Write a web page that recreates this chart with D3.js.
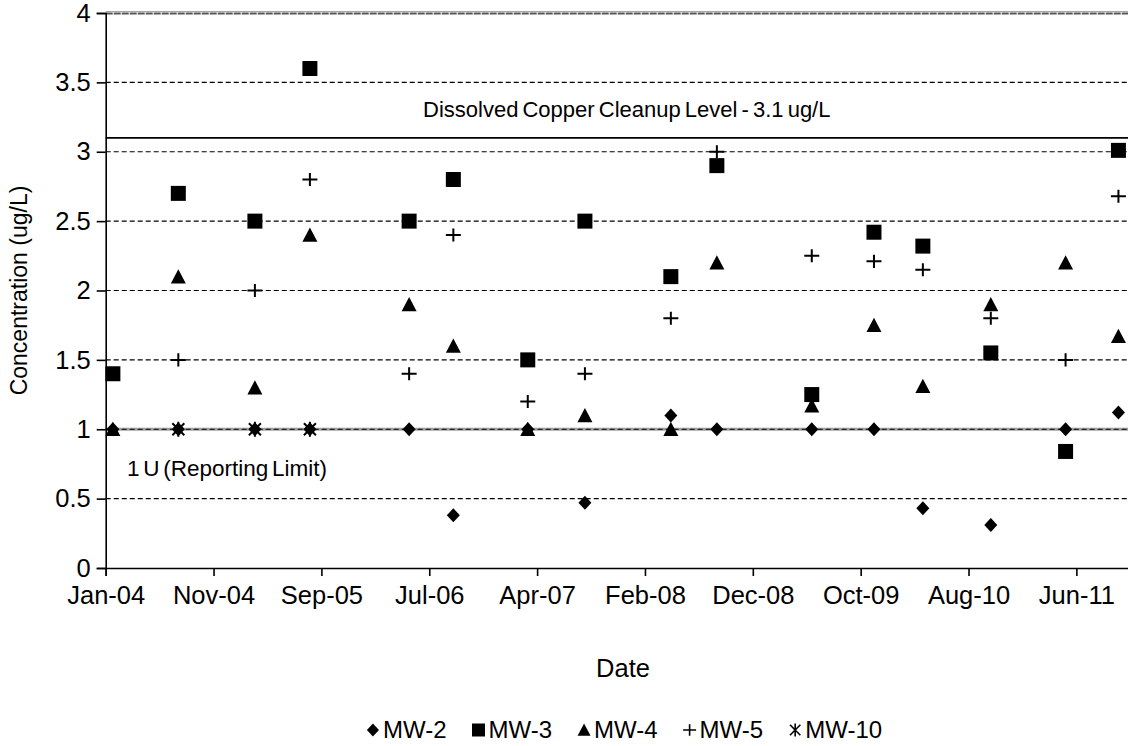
<!DOCTYPE html>
<html>
<head>
<meta charset="utf-8">
<script src="https://cdn.jsdelivr.net/npm/d3@7"></script>
<style>
  body { margin: 0; background: #fff; }
  svg { display: block; font-family: "Liberation Sans", Arial, sans-serif; }
</style>
</head>
<body>
<div class="visHolder"></div>
<script>
const width = 1128,
  height = 746;

const sampleDates = [
  "2004-02-03", "2004-08-03", "2005-03-04", "2005-08-04",
  "2006-05-07", "2006-09-07", "2007-04-02", "2007-09-08",
  "2008-05-04", "2008-09-09", "2009-05-31", "2009-11-20",
  "2010-04-05", "2010-10-11", "2011-05-07", "2011-10-01"
];

const seriesNames = ["MW-2", "MW-3", "MW-4", "MW-5", "MW-10"];
const seriesShapes = ["diamond", "square", "triangle", "plus", "star"];

const mw2 = [1, 1, 1, 1, 1, 0.38, 1, 0.47, 1.1, 1, 1, 1, 0.43, 0.31, 1, 1.12];
const mw3 = [1.4, 2.7, 2.5, 3.6, 2.5, 2.8, 1.5, 2.5, 2.1, 2.9, 1.25, 2.42, 2.32, 1.55, 0.84, 3.01];
const mw4 = [1, 2.1, 1.3, 2.4, 1.9, 1.6, 1, 1.1, 1, 2.2, 1.17, 1.75, 1.31, 1.9, 2.2, 1.67];
const mw5 = [null, 1.5, 2, 2.8, 1.4, 2.4, 1.2, 1.4, 1.8, 3, 2.25, 2.21, 2.15, 1.8, 1.5, 2.68];
const mw10 = [null, 1, 1, 1, null, null, null, null, null, null, null, null, null, null, null, null];
const seriesValues = [mw2, mw3, mw4, mw5, mw10];

const yTicks = [0, 0.5, 1, 1.5, 2, 2.5, 3, 3.5, 4];
const dashedLevels = [0.5, 1.5, 2, 2.5, 3, 3.5];
const cleanupLevel = 3.1;
const reportingLimit = 1;

// Excel style date axis: min serial 38000 (14 Jan 2004), major unit 300 days
const axisStart = new Date(2004, 0, 14);
const axisEnd = d3.timeDay.offset(axisStart, 2850);
const xTickValues = d3.range(10).map((i) => d3.timeDay.offset(axisStart, 300 * i));

const parseDate = d3.timeParse("%Y-%m-%d");
const tickFormat = d3.timeFormat("%b-%y");

const plotLeft = 105.7,
  plotRight = 1130.3,
  plotTop = 13,
  plotBottom = 568;

const xScale = d3.scaleTime().domain([axisStart, axisEnd]).range([plotLeft, plotRight]);
const yScale = d3.scaleLinear().domain([0, 4]).range([plotBottom, plotTop]);

const markerPath = (shape, s) => {
  const h = s / 2;
  if (shape === "diamond") {
    return `M0,${-h}L${h * 0.93},0L0,${h}L${-h * 0.93},0Z`;
  } else if (shape === "square") {
    return `M${-h},${-h}H${h}V${h}H${-h}Z`;
  } else if (shape === "triangle") {
    return `M0,${-h}L${h},${h * 0.9}L${-h},${h * 0.9}Z`;
  } else if (shape === "plus") {
    return `M${-h},0H${h}M0,${-h * 0.87}V${h * 0.87}`;
  } else {
    const a = h * 0.8;
    return `M${-a},${-a}L${a},${a}M${a},${-a}L${-a},${a}M0,${-h}V${h}`;
  }
};

const isLine = (shape) => shape === "plus" || shape === "star";

const svg = d3
  .select(".visHolder")
  .append("svg")
  .attr("width", width)
  .attr("height", height);

// top border of plot area
svg
  .append("line")
  .attr("x1", plotLeft)
  .attr("x2", width)
  .attr("y1", yScale(4) - 1.5)
  .attr("y2", yScale(4) - 1.5)
  .style("stroke", "#a6a6a6")
  .style("stroke-width", 1);

svg
  .append("line")
  .attr("x1", plotLeft)
  .attr("x2", width)
  .attr("y1", yScale(4) + 0.5)
  .attr("y2", yScale(4) + 0.5)
  .style("stroke", "#555")
  .style("stroke-width", 2)
  .style("stroke-dasharray", "7,1");

// reporting limit (grey solid)
svg
  .append("line")
  .attr("x1", plotLeft)
  .attr("x2", width)
  .attr("y1", yScale(reportingLimit))
  .attr("y2", yScale(reportingLimit))
  .style("stroke", "#a0a0a0")
  .style("stroke-width", 3);

// dashed gridlines
svg
  .selectAll(".grid")
  .data(dashedLevels.concat([reportingLimit]))
  .enter()
  .append("line")
  .attr("class", "grid")
  .attr("x1", plotLeft)
  .attr("x2", width)
  .attr("y1", (d) => yScale(d))
  .attr("y2", (d) => yScale(d))
  .style("stroke", "#000")
  .style("stroke-width", 1.2)
  .style("stroke-dasharray", "5,3");

// cleanup level
svg
  .append("line")
  .attr("x1", plotLeft)
  .attr("x2", width)
  .attr("y1", yScale(cleanupLevel))
  .attr("y2", yScale(cleanupLevel))
  .style("stroke", "#000")
  .style("stroke-width", 1.8);

svg
  .append("text")
  .attr("x", 423)
  .attr("y", 117)
  .text("Dissolved Copper Cleanup Level - 3.1 ug/L")
  .style("font-size", "22px")
  .style("word-spacing", "-2px");

svg
  .append("text")
  .attr("x", 127)
  .attr("y", 476)
  .text("1 U (Reporting Limit)")
  .style("font-size", "22.5px")
  .style("word-spacing", "-2.5px");

// axes
const yAxis = d3.axisLeft(yScale).tickValues(yTicks).tickFormat(d3.format("")).tickSizeOuter(0).tickSize(9).tickPadding(6);
const xAxis = d3.axisBottom(xScale).tickValues(xTickValues).tickFormat(tickFormat).tickSizeOuter(0).tickSize(8).tickPadding(10);

const yG = svg
  .append("g")
  .attr("id", "y-axis")
  .attr("transform", "translate(" + plotLeft + ",0)")
  .call(yAxis);

const xG = svg
  .append("g")
  .attr("id", "x-axis")
  .attr("transform", "translate(0," + plotBottom + ")")
  .call(xAxis);

[yG, xG].forEach((g) => {
  g.select(".domain").style("stroke", "#000").style("stroke-width", 1.6);
  g.selectAll(".tick line").style("stroke", "#000").style("stroke-width", 1.6);
  g.selectAll(".tick text")
    .style("font-size", "25.5px")
    .style("font-family", "Liberation Sans, Arial, sans-serif")
    .style("fill", "#000");
});

// markers
seriesNames.forEach((name, si) => {
  const shape = seriesShapes[si];
  const pts = sampleDates
    .map((d, i) => ({ date: parseDate(d), value: seriesValues[si][i] }))
    .filter((p) => p.value !== null);

  svg
    .append("g")
    .attr("class", "series")
    .selectAll("path")
    .data(pts)
    .enter()
    .append("path")
    .attr("transform", (p) => "translate(" + xScale(p.date) + "," + yScale(p.value) + ")")
    .attr("d", markerPath(shape, shape === "diamond" ? 14 : 15))
    .style("fill", isLine(shape) ? "none" : "#000")
    .style("stroke", "#000")
    .style("stroke-width", isLine(shape) ? 2 : 0);
});

// axis titles
svg
  .append("text")
  .attr("x", 623)
  .attr("y", 677)
  .attr("text-anchor", "middle")
  .text("Date")
  .style("font-size", "25.5px");

svg
  .append("text")
  .attr("transform", "translate(27," + (plotTop + plotBottom) / 2 + ") rotate(-90)")
  .attr("text-anchor", "middle")
  .text("Concentration (ug/L)")
  .style("font-size", "23px");

// legend
const legend = svg.append("g").attr("id", "legend");
let cursor = 0;
seriesNames.forEach((name, si) => {
  const item = legend.append("g").attr("transform", "translate(" + cursor + ",0)");
  const shape = seriesShapes[si];
  item
    .append("path")
    .attr("transform", "translate(7,-8)")
    .attr("d", markerPath(shape, 13))
    .style("fill", isLine(shape) ? "none" : "#000")
    .style("stroke", "#000")
    .style("stroke-width", isLine(shape) ? 1.6 : 0);
  const t = item
    .append("text")
    .attr("x", 17)
    .attr("y", 0)
    .text(name)
    .style("font-size", "24px");
  cursor += 17 + t.node().getComputedTextLength() + 25;
});
const legendWidth = cursor - 25;
legend.attr("transform", "translate(" + (624 - legendWidth / 2) + ",738)");
</script>
</body>
</html>
